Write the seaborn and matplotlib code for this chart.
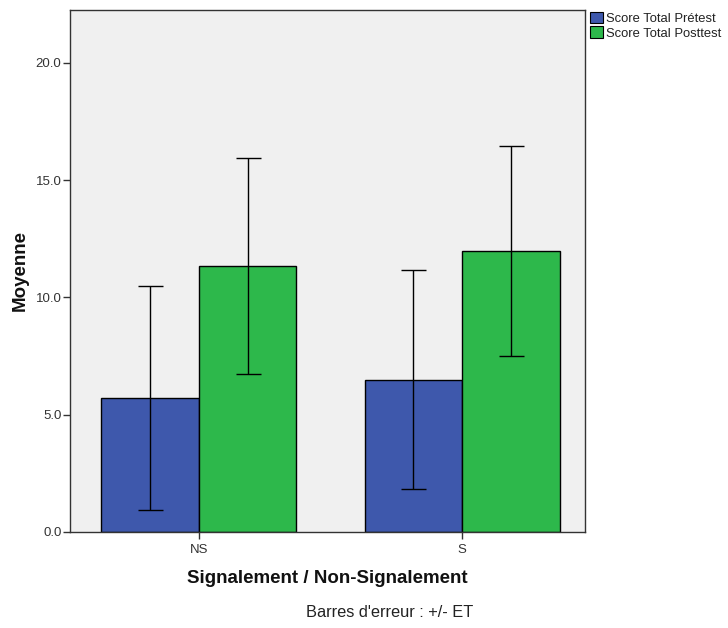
import pandas as pd
import matplotlib.pyplot as plt
import seaborn as sns
from matplotlib.patches import Patch

# values
groups = ["NS", "S"]
tests = ["Score Total Prétest", "Score Total Posttest"]
means_pre = [5.71, 6.48]
means_post = [11.34, 11.98]
sd_pre = [4.79, 4.67]
sd_post = [4.61, 4.48]
colors = ["#3e58ac", "#2db84b"]

df = pd.DataFrame({
    "group": groups * 2,
    "test": [tests[0]] * 2 + [tests[1]] * 2,
    "mean": means_pre + means_post,
    "sd": sd_pre + sd_post,
})

sns.set_style("white")
plt.rcParams["font.family"] = ["Liberation Sans", "DejaVu Sans"]

fig = plt.figure(figsize=(7.28, 6.28), dpi=100)
ax = fig.add_axes([0.096, 0.153, 0.708, 0.831])
ax.set_facecolor("#f0f0f0")

sns.barplot(data=df, x="group", y="mean", hue="test", hue_order=tests,
            palette=colors, width=0.74, edgecolor="black", linewidth=1,
            errorbar=None, legend=False, ax=ax, saturation=1)

# error bars (+/- SD) on top of each bar
for patch, (_, row) in zip(ax.patches, df.iterrows()):
    xc = patch.get_x() + patch.get_width() / 2
    ax.errorbar(xc, row["mean"], yerr=row["sd"], fmt="none", ecolor="black",
                elinewidth=1, capsize=9, capthick=1)

ax.set_ylim(0, 22.25)
ax.set_xlim(-0.49, 1.468)
ax.set_yticks([0, 5, 10, 15, 20])
ax.set_yticklabels(["0.0", "5.0", "10.0", "15.0", "20.0"])
ax.tick_params(axis="both", direction="out", length=5, width=1, colors="#333333",
               labelcolor="#333333", labelsize=9.5, left=True, bottom=True)
ax.tick_params(axis="y", pad=1)
for s in ax.spines.values():
    s.set_color("#333333")
    s.set_linewidth(1)

ax.set_xlabel("Signalement / Non-Signalement", fontsize=13.5, fontweight="bold",
              labelpad=10, color="#111111")
ax.set_ylabel("Moyenne", fontsize=13.5, fontweight="bold", labelpad=5,
              color="#111111")

handles = [Patch(facecolor=c, edgecolor="black", linewidth=0.8) for c in colors]
fig.legend(handles, tests, loc="upper left", bbox_to_anchor=(0.803, 0.99),
           frameon=False, fontsize=9.4, handlelength=1.0, handleheight=1.0,
           handletextpad=0.25, labelspacing=0.12, borderaxespad=0,
           labelcolor="#222222")

fig.text(0.535, 0.012, "Barres d'erreur : +/- ET", ha="center", va="bottom",
         fontsize=11.8, color="#222222")

fig.savefig("out.png", dpi=100)
